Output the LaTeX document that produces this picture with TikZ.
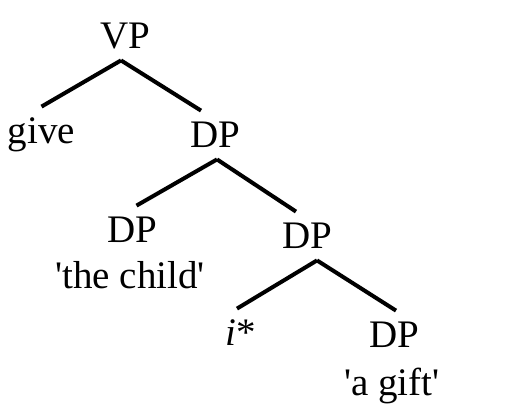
\documentclass[tikz,border=0pt]{standalone}
\usepackage{fontspec}
\setmainfont{Liberation Serif}
\usepackage{tikz}

\begin{document}
\begin{tikzpicture}
  [x=0.5pt,y=-0.5pt]
      \tikzstyle{word_style} = [inner sep=0pt, anchor=base, text height=18pt, text depth=6pt, font=\fontsize{19.5}{23}\selectfont]
      \tikzstyle{branch_style} = [draw=black, line width=2pt]
  \useasboundingbox (0,0) rectangle (525,419);
  \node[word_style] (vp) at (125,48) {VP};
  \node[word_style] (give) at (41.5,143) {give};
  \node[word_style] (dpa) at (215,147) {DP};
  \node[word_style] (dpb) at (132.5,242) {DP};
  \node[word_style] (child) at (130,288) {\textquotesingle the child\textquotesingle};
  \node[word_style] (dpc) at (307,248) {DP};
  \node[word_style] (trace) at (241,345) {\textit{i}*};
  \node[word_style] (dpd) at (394,347) {DP};
  \node[word_style] (gift) at (392,395) {\textquotesingle a gift\textquotesingle};
  \draw[branch_style] ([xshift=-2pt]vp.south) -- (give.north);
  \draw[branch_style] ([xshift=-2pt]vp.south) -- ([xshift=-7pt]dpa.north);
  \draw[branch_style] ([xshift=1pt]dpa.south) -- ([xshift=2pt]dpb.north);
  \draw[branch_style] ([xshift=1pt]dpa.south) -- ([xshift=-5.5pt]dpc.north);
  \draw[branch_style] ([xshift=5pt]dpc.south) -- ([xshift=-2pt]trace.north);
  \draw[branch_style] ([xshift=5pt]dpc.south) -- ([xshift=1pt]dpd.north);
\end{tikzpicture}
\end{document}
